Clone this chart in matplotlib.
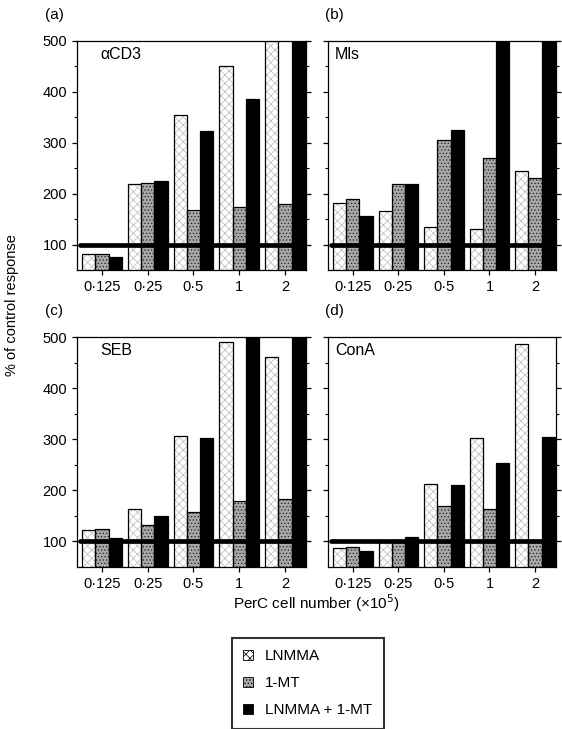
import matplotlib
matplotlib.use('Agg')
import matplotlib.pyplot as plt
from matplotlib.patches import Patch
import numpy as np

plt.rcParams['font.family'] = ['Liberation Sans', 'DejaVu Sans']
plt.rcParams['hatch.linewidth'] = 0.5

# dose groups (x 10^5 PerC cells)
doses = ['0\u00b7125', '0\u00b725', '0\u00b75', '1', '2']
series = ['LNMMA', '1-MT', 'LNMMA + 1-MT']

# % of control response per panel, one list per treatment (values > 500 are clipped by the axis)
acd3_lnmma = [81, 219, 355, 451, 560]
acd3_1mt = [81, 221, 167, 174, 179]
acd3_both = [75, 224, 323, 386, 560]

mls_lnmma = [182, 166, 135, 131, 245]
mls_1mt = [190, 219, 306, 270, 230]
mls_both = [156, 219, 326, 560, 560]

seb_lnmma = [123, 163, 307, 490, 461]
seb_1mt = [125, 132, 157, 179, 184]
seb_both = [106, 150, 303, 560, 560]

cona_lnmma = [87, 100, 213, 303, 486]
cona_1mt = [89, 100, 170, 164, 102]
cona_both = [82, 108, 211, 254, 305]

panels = [
    ('(a)', '\u03b1CD3', [acd3_lnmma, acd3_1mt, acd3_both]),
    ('(b)', 'Mls', [mls_lnmma, mls_1mt, mls_both]),
    ('(c)', 'SEB', [seb_lnmma, seb_1mt, seb_both]),
    ('(d)', 'ConA', [cona_lnmma, cona_1mt, cona_both]),
]

# look of each treatment: (facecolor, hatch colour, hatch)
styles = [('white', '#b8b8b8', 'xxxx'),
          ('#a8a8a8', '#202020', '.....'),
          ('black', 'black', None)]

W, H = 562, 729
fig = plt.figure(figsize=(W / 100, H / 100), dpi=100)

# axes boxes in pixels: left, top, right, bottom
boxes = [(77, 41, 306, 270), (328, 41, 556, 270),
         (77, 337, 306, 567), (328, 337, 556, 567)]

x = np.arange(len(doses))
bw = 0.29

for k, (tag, name, vals) in enumerate(panels):
    l, t, r, b = boxes[k]
    ax = fig.add_axes([l / W, 1 - b / H, (r - l) / W, (b - t) / H])
    for j, v in enumerate(vals):
        fc, hc, hatch = styles[j]
        pos = x + (j - 1) * bw
        # fill + hatch (edge colour drives hatch colour), then a black outline on top
        ax.bar(pos, v, bw, bottom=0, color=fc, edgecolor=hc, linewidth=0, hatch=hatch, zorder=2)
        ax.bar(pos, v, bw, bottom=0, fill=False, edgecolor='black', linewidth=0.9, zorder=3)
    # control level line
    ax.plot([-0.49, 4.3], [100, 100], color='black', lw=3.4, solid_capstyle='round', zorder=4)

    ax.set_xlim(-0.545, 4.46)
    ax.set_ylim(50, 500)
    ax.set_xticks(x)
    ax.set_xticklabels(doses, fontsize=10.5)
    ax.set_yticks([100, 200, 300, 400, 500])
    ax.set_yticks([150, 250, 350, 450], minor=True)
    ax.tick_params(axis='both', direction='out', length=3.5, width=0.9, right=True)
    ax.tick_params(axis='y', which='minor', direction='out', length=2, width=0.8, right=True)
    ax.tick_params(axis='x', pad=4)
    if k % 2 == 0:
        ax.set_yticklabels(['100', '200', '300', '400', '500'], fontsize=10.5)
    else:
        ax.set_yticklabels([])
    for s in ax.spines.values():
        s.set_linewidth(0.9)
    ax.text(0.03 if k % 2 else 0.1, 0.975, name, transform=ax.transAxes, fontsize=11.5,
            va='top', ha='left')
    fig.text((l - 32) / W if k % 2 == 0 else (l - 3) / W, 1 - (t - 26) / H, tag,
             fontsize=11, va='center', ha='left')

fig.text(12 / W, 1 - 305 / H, '% of control response', rotation=90,
         fontsize=10.5, ha='center', va='center')
fig.text(316 / W, 1 - 603 / H, 'PerC cell number (\u00d710$^5$)',
         fontsize=11, ha='center', va='center')

handles = []
for fc, hc, hatch in styles:
    handles.append(Patch(facecolor=fc, edgecolor='black', hatch=hatch, linewidth=0.6))
leg = fig.legend(handles, series, loc='upper left',
                 bbox_to_anchor=(232 / W, 1 - 638 / H), borderaxespad=0,
                 fontsize=11, handlelength=0.6, handleheight=0.6, handletextpad=0.8,
                 labelspacing=0.85, borderpad=0.75, fancybox=False, frameon=True)
leg.get_frame().set_edgecolor('black')
leg.get_frame().set_linewidth(1.5)

fig.savefig('out.png', dpi=100)
